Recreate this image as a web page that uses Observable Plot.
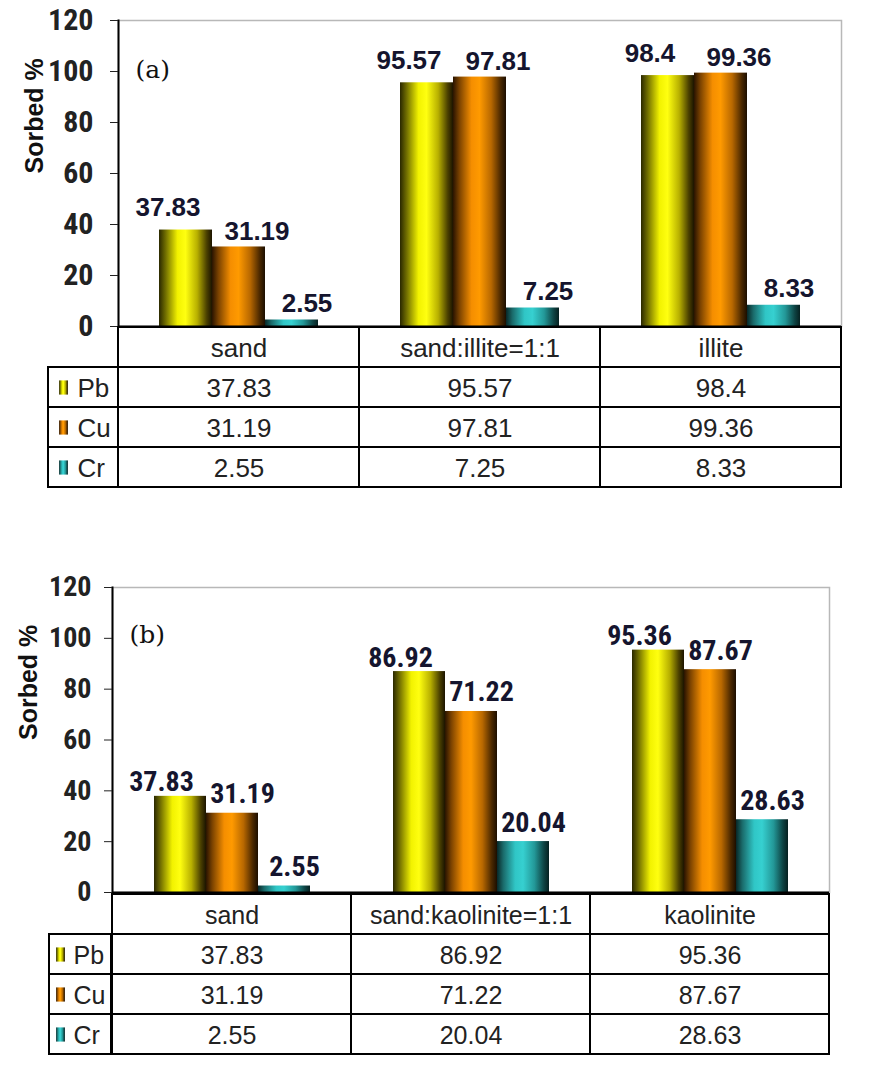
<!DOCTYPE html>
<html><head><meta charset="utf-8">
<script src="https://cdn.jsdelivr.net/npm/d3@7"></script>
<script src="https://cdn.jsdelivr.net/npm/@observablehq/plot@0.6"></script>
<style>
body{margin:0;background:#fff;}
#root{width:876px;}
.row{display:flex;align-items:flex-start;}
svg{display:block;overflow:visible;}
</style></head><body>
<svg width="0" height="0" style="position:absolute"><defs>
<linearGradient id="gPb" x1="0" x2="1" y1="0" y2="0">
<stop offset="0" stop-color="#2a2800"/><stop offset="0.12" stop-color="#6e6b00"/><stop offset="0.35" stop-color="#f2f200"/><stop offset="0.5" stop-color="#ffff10"/><stop offset="0.72" stop-color="#b8b000"/><stop offset="0.9" stop-color="#4a4000"/><stop offset="1" stop-color="#1c1400"/>
</linearGradient>
<linearGradient id="gCu" x1="0" x2="1" y1="0" y2="0">
<stop offset="0" stop-color="#2a1400"/><stop offset="0.12" stop-color="#7a4200"/><stop offset="0.35" stop-color="#f58e00"/><stop offset="0.5" stop-color="#ff9a00"/><stop offset="0.72" stop-color="#b86800"/><stop offset="0.9" stop-color="#4a2800"/><stop offset="1" stop-color="#1c0e00"/>
</linearGradient>
<linearGradient id="gCr" x1="0" x2="1" y1="0" y2="0">
<stop offset="0" stop-color="#082828"/><stop offset="0.12" stop-color="#1a6a6a"/><stop offset="0.35" stop-color="#30c6c6"/><stop offset="0.5" stop-color="#36d0d0"/><stop offset="0.72" stop-color="#239898"/><stop offset="0.9" stop-color="#0e4444"/><stop offset="1" stop-color="#062020"/>
</linearGradient>
</defs></svg>
<div id="root"></div>
<script>
// ---- data ----
const metals = ["Pb", "Cu", "Cr"];
const catsA = ["sand", "sand:illite=1:1", "illite"];
const catsB = ["sand", "sand:kaolinite=1:1", "kaolinite"];
const pbA = [37.83, 95.57, 98.4];
const cuA = [31.19, 97.81, 99.36];
const crA = [2.55, 7.25, 8.33];
const pbB = [37.83, 86.92, 95.36];
const cuB = [31.19, 71.22, 87.67];
const crB = [2.55, 20.04, 28.63];
const yTicks = [0, 20, 40, 60, 80, 100, 120];
const yLabel = "Sorbed %";
const panelLabels = ["(a)", "(b)"];
const tableRows = ["category", ...metals];

const narrow = "'Liberation Sans Narrow','Arial Narrow','Roboto Condensed',sans-serif";
const sans = "'Liberation Sans',Arial,sans-serif";
const bar = {draw(ctx, size){ const s = Math.sqrt(size); const w = s*1.0, h = s*1.6; ctx.rect(-w/2, -h/2, w, h); }};

function panel(cfg){
  const rows = cfg.cats.flatMap((c, i) => metals.map((m, j) => ({cat: c, metal: m, value: cfg.series[j][i]})));
  const marks = [Plot.frame({stroke: "#b8b8b8", strokeWidth: 1.5, facet: "super"})];
  metals.forEach(m => {
    marks.push(Plot.barY(rows.filter(r => r.metal === m), {fx: "cat", x: "metal", y: "value", fill: `url(#g${m})`}));
  });
  marks.push(Plot.ruleY([0], {stroke: "#000", strokeWidth: 2}));
  marks.push(Plot.frame({anchor: "left", stroke: "#000", strokeWidth: 2, facet: "super"}));
  marks.push(Plot.axisY(yTicks, {tickSize: 8, tickPadding: cfg.tickPad, fontSize: cfg.tickFont, fontWeight: "bold", fontFamily: narrow, color: "#222", label: null}));
  metals.forEach((m, j) => {
    marks.push(Plot.text(rows.filter(r => r.metal === m), {fx: "cat", x: "metal", y: "value", text: d => String(d.value), lineAnchor: "bottom", dx: cfg.ldx[j], dy: cfg.ldy[j], fontSize: cfg.labFont, fontWeight: "bold", fontFamily: cfg.labFamily, fill: "#15152e"}));
  });
  marks.push(Plot.text([cfg.label], {frameAnchor: "top-left", textAnchor: "start", dx: 17, dy: cfg.panelDy, facet: "super", fontFamily: "'DejaVu Serif',serif", fontSize: 25, fill: "#111"}));
  marks.push(Plot.text([yLabel], {frameAnchor: "left", rotate: -90, dx: -84, facet: "super", fontFamily: sans, fontWeight: "bold", fontSize: 25, fill: "#111"}));

  const chart = Plot.plot({
    width: 876, height: cfg.chartH, marginTop: 20, marginBottom: 0, marginLeft: cfg.ml, marginRight: cfg.mr,
    fx: {domain: cfg.cats, padding: 0, axis: null},
    x: {domain: metals, paddingInner: 0, paddingOuter: cfg.pad, axis: null},
    y: {domain: [0, 120], axis: null},
    marks
  });

  const cells = [
    ...cfg.cats.map(c => ({cat: c, row: "category", text: c})),
    ...rows.map(r => ({cat: r.cat, row: r.metal, text: String(r.value)}))
  ];
  const table = Plot.plot({
    width: 876 - cfg.ml, height: cfg.tableH, marginTop: 0, marginBottom: 0, marginLeft: 0, marginRight: cfg.mr,
    x: {domain: cfg.cats, padding: 0, axis: null},
    y: {domain: tableRows, padding: 0, axis: null},
    marks: [
      Plot.cell(cells, {x: "cat", y: "row", fill: "white", stroke: "#000", strokeWidth: 2}),
      Plot.text(cells, {x: "cat", y: "row", text: "text", fontSize: cfg.tabFont, fontFamily: cfg.tabFamily, fill: "#222", dy: 1})
    ]
  });
  const legend = Plot.plot({
    width: cfg.ml - cfg.legLeft, height: cfg.tableH, margin: 0,
    x: {domain: ["key"], padding: 0, axis: null},
    y: {domain: tableRows, padding: 0, axis: null},
    marks: [
      Plot.cell(metals, {x: () => "key", y: d => d, fill: "white", stroke: "#000", strokeWidth: 2}),
      ...metals.map(m => Plot.dot([m], {x: () => "key", y: d => d, dx: cfg.swDx, symbol: bar, r: 5, fill: `url(#g${m})`, stroke: null})),
      Plot.text(metals, {x: () => "key", y: d => d, text: d => d, dx: cfg.txDx, textAnchor: "start", fontSize: cfg.tabFont, fontFamily: cfg.tabFamily, fill: "#222", dy: 1})
    ]
  });

  const wrap = document.createElement("div");
  wrap.appendChild(chart);
  const row = document.createElement("div");
  row.className = "row";
  const sp = document.createElement("div");
  sp.style.width = cfg.legLeft + "px";
  sp.style.flex = "none";
  row.appendChild(sp);
  row.appendChild(legend);
  row.appendChild(table);
  wrap.appendChild(row);
  return wrap;
}

const root = document.getElementById("root");
root.appendChild(panel({
  label: panelLabels[0], cats: catsA, series: [pbA, cuA, crA],
  ml: 118, mr: 35, chartH: 326, tableH: 162, pad: 0.76, legLeft: 48,
  tickPad: 17, tickFont: 30, labFont: 26, labFamily: sans,
  ldx: [-18, 18, 15], ldy: [-14, -7, -8], panelDy: 40,
  tabFont: 26, tabFamily: sans, swDx: -20, txDx: -6
}));
const gap = document.createElement("div");
gap.style.height = "79px";
root.appendChild(gap);
root.appendChild(panel({
  label: panelLabels[1], cats: catsB, series: [pbB, cuB, crB],
  ml: 111, mr: 46, chartH: 325, tableH: 163, pad: 0.765, legLeft: 49,
  tickPad: 13, tickFont: 28, labFont: 28, labFamily: narrow,
  ldx: [-19, 10, 10], ldy: [-5, -10, -10], panelDy: 38,
  tabFont: 25, tabFamily: sans, swDx: -20, txDx: -7
}));
</script>
</body></html>
